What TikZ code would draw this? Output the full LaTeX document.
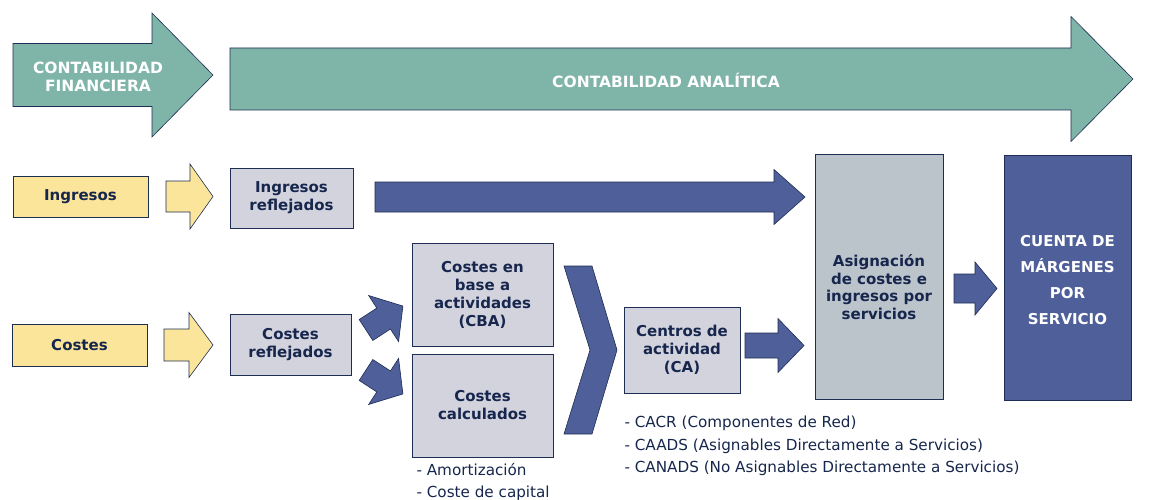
\documentclass[tikz,border=0pt]{standalone}
\usepackage{fontspec}
\setmainfont{DejaVu Sans}
\usetikzlibrary{positioning}

\definecolor{tealfill}{RGB}{127,181,168}
\definecolor{yellowfill}{RGB}{250,229,155}
\definecolor{boxfill}{RGB}{211,211,222}
\definecolor{asigfill}{RGB}{187,195,203}
\definecolor{navyfill}{RGB}{79,95,153}
\definecolor{navytext}{RGB}{22,38,76}
\definecolor{edgeline}{RGB}{30,45,82}

% block arrow: [style]{shaft start}{head start}{tip}{y centre}{half shaft}{half head}
\newcommand{\blockarrow}[7][]{%
  \draw[#1] (#2,#5-#6) -- (#3,#5-#6) -- (#3,#5-#7) -- (#4,#5)
    -- (#3,#5+#7) -- (#3,#5+#6) -- (#2,#5+#6) -- cycle;}

\tikzset{
  greenarr/.style={fill=tealfill, draw=edgeline, line width=0.6pt},
  yellowarr/.style={fill=yellowfill, draw=edgeline, line width=0.6pt},
  bluearr/.style={fill=navyfill, draw=edgeline, line width=0.6pt},
  bigtext/.style={text=white, font=\fontsize{15.5}{18}\selectfont\bfseries, align=center},
  inbox/.style={draw=edgeline, line width=0.9pt, fill=yellowfill, text=navytext,
    font=\fontsize{15}{18}\selectfont\bfseries, inner sep=0pt},
  stepbox/.style={draw=edgeline, line width=0.9pt, fill=boxfill, text=navytext,
    font=\fontsize{15}{18}\selectfont\bfseries, align=center, inner sep=0pt},
  listtext/.style={text=navytext, font=\fontsize{15.2}{22.5}\selectfont, align=left, anchor=west}
}

\begin{document}
\begin{tikzpicture}[x=1pt, y=-1pt]
\useasboundingbox (0,0) rectangle (1153,500);

% top band
\blockarrow[greenarr]{13}{152}{213}{75}{31.5}{62}
\node[bigtext] (fin) at (98,77) {CONTABILIDAD\\FINANCIERA};
\blockarrow[greenarr]{230}{1071}{1133}{79}{31}{62.5}
\node[bigtext] (ana) at (666,80) {CONTABILIDAD ANALÍTICA};

% ingresos row
\node[inbox, minimum width=135, minimum height=41] (ingr) at (80.5,196.5) {Ingresos};
\blockarrow[yellowarr]{166}{190}{213}{196.5}{15.5}{32.5}
\node[stepbox, minimum width=123, minimum height=60] (ingref) at (291.5,198) {Ingresos\\reflejados};
\blockarrow[bluearr]{375}{774}{805}{197}{15}{27.5}

% costes row
\node[inbox, minimum width=135, minimum height=42] (cost) at (79.5,345) {Costes};
\blockarrow[yellowarr]{164}{189}{213}{345}{16}{32.5}
\node[stepbox, minimum width=121, minimum height=61] (costref) at (290.5,344.5) {Costes\\reflejados};

\begin{scope}[shift={(366,330)}, rotate=33]
  \blockarrow[bluearr]{0}{21}{44}{0}{12.5}{27.5}
\end{scope}
\begin{scope}[shift={(366,370)}, rotate=-33]
  \blockarrow[bluearr]{0}{21}{44}{0}{12.5}{27.5}
\end{scope}

\node[stepbox, minimum width=141, minimum height=103] (cba) at (482.5,294.5) {Costes en\\base a\\actividades\\(CBA)};
\node[stepbox, minimum width=141, minimum height=103] (calc) at (482.5,405.5) {Costes\\calculados};
\node[listtext] (calclist) at (413,482) {- Amortización\\- Coste de capital};

% chevron
\draw[bluearr] (564,266) -- (592,266) -- (617,350) -- (592,434) -- (564,434) -- (590,350) -- cycle;

\node[stepbox, minimum width=116, minimum height=86] (ca) at (682,350) {Centros de\\actividad\\(CA)};
\node[listtext] (calist) at (621,446) {- CACR (Componentes de Red)\\- CAADS (Asignables Directamente a Servicios)\\- CANADS (No Asignables Directamente a Servicios)};
\blockarrow[bluearr]{745}{778}{804}{345.5}{12.5}{27}

% right side
\node[stepbox, fill=asigfill, minimum width=128, minimum height=245] (asig) at (879,276.5) {};
\node[text=navytext, font=\fontsize{15}{17.7}\selectfont\bfseries, align=center] (asigtext) at (879,287) {Asignación\\de costes e\\ingresos por\\servicios};
\blockarrow[bluearr]{954}{975}{997}{288.5}{14.5}{26.5}
\node[stepbox, fill=navyfill, minimum width=127, minimum height=245] (cuenta) at (1067.5,277.5) {};
\node[text=white, font=\fontsize{15}{26}\selectfont\bfseries, align=center] (cuentatext) at (1067.5,280) {CUENTA DE\\MÁRGENES\\POR\\SERVICIO};
\end{tikzpicture}
\end{document}
